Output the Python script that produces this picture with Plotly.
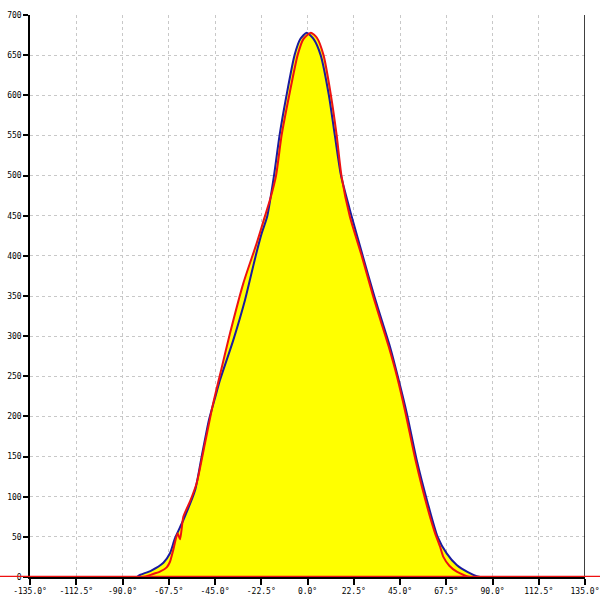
import plotly.graph_objects as go

# Blue series (angle in degrees, value)
blue_deg = [-83, -81.5, -76, -70.1, -66.9, -64.5, -60.4, -54.7, -51.5, -48, -45, -42.6,
            -36.1, -30.4, -25.3, -22.3, -19.6, -16.3, -13.6, -10.2, -6.3, -3.5, -0.4,
            3, 6.4, 10.4, 13.3, 16.3, 21.5, 27.0, 32.6, 36.1, 40.1, 44.0, 48.3, 53.1,
            58.5, 63.3, 67.7, 72.6, 78, 82.3, 84]
blue_val = [0, 2.5, 8, 17.8, 29.5, 48, 71, 108, 150, 195, 223, 245,
            295, 345, 399, 428, 449, 500, 550, 600, 650, 670, 678,
            670, 650, 600, 550, 500, 449, 399, 349, 320, 287, 249, 204, 146,
            92, 50, 29.5, 15, 6, 1, 0]

# Red series
red_deg = [-150, -80, -76, -71.8, -68.5, -66.9, -65.3, -63.2, -62, -60.4, -57, -53.9,
           -50, -46, -42, -37.7, -31.2, -24.7, -21, -18, -15.3, -12.6, -8.9, -4.8, -2,
           1.6, 4.5, 7.8, 11.4, 14.2, 16.5, 20.6, 26.5, 32, 35.5, 39.5, 43.6, 47.7, 52.5,
           58.5, 62, 64.5, 66.1, 69, 72.6, 76, 79, 150]
red_val = [0, 0, 3, 6.6, 12, 19, 33.6, 54.4, 47, 75, 95, 117,
           165, 215, 258, 303.5, 366, 416, 447, 472, 500, 550, 600, 650, 670,
           678, 672, 650, 600, 550, 500, 449, 399, 349, 320, 287, 249, 204, 146,
           85, 55, 37.7, 25, 14, 6.6, 2.5, 0, 0]

x_ticks = [-135, -112.5, -90, -67.5, -45, -22.5, 0, 22.5, 45, 67.5, 90, 112.5, 135]
x_labels = [f"{t:.1f}°" for t in x_ticks]
y_ticks = list(range(0, 701, 50))

YELLOW = "#ffff00"
BLUE = "#1a1aa0"
RED = "#ee1111"

fig = go.Figure()
fig.add_trace(go.Scatter(x=blue_deg, y=blue_val, mode="lines", fill="tozeroy",
                         fillcolor=YELLOW, line=dict(width=0, shape="spline", smoothing=0.6),
                         hoverinfo="skip"))
fig.add_trace(go.Scatter(x=red_deg, y=red_val, mode="lines", fill="tozeroy",
                         fillcolor=YELLOW, line=dict(width=0, shape="spline", smoothing=0.6),
                         hoverinfo="skip"))
fig.add_trace(go.Scatter(x=blue_deg, y=blue_val, mode="lines",
                         line=dict(color=BLUE, width=2, shape="spline", smoothing=0.6)))
fig.add_trace(go.Scatter(x=red_deg, y=red_val, mode="lines",
                         line=dict(color=RED, width=2, shape="spline", smoothing=0.6)))

# right boundary line and extended zero baseline
fig.add_shape(type="line", xref="x", yref="paper", x0=135, x1=135, y0=0, y1=1,
              line=dict(color="black", width=1.5))
fig.add_shape(type="line", xref="paper", yref="y", x0=-0.06, x1=1.03, y0=0, y1=0,
              line=dict(color=RED, width=2.5))

font = dict(family="DejaVu Sans Mono", size=8, color="black")
fig.update_layout(
    width=600, height=600,
    margin=dict(l=30, r=15, t=15, b=23),
    paper_bgcolor="white", plot_bgcolor="white",
    showlegend=False,
    font=font,
    xaxis=dict(range=[-135, 135], tickvals=x_ticks, ticktext=x_labels,
               showgrid=True, gridcolor="#c8c8c8", griddash="3px,3px", gridwidth=1,
               showline=True, linecolor="black", linewidth=1.5,
               ticks="outside", ticklen=6, tickcolor="black", tickwidth=1.5,
               zeroline=False, tickfont=font, fixedrange=True,
               automargin=False, ticklabeloverflow="allow"),
    yaxis=dict(range=[0, 700], tickvals=y_ticks,
               showgrid=True, gridcolor="#c8c8c8", griddash="3px,3px", gridwidth=1,
               showline=True, linecolor="black", linewidth=1.5,
               ticks="outside", ticklen=5, tickcolor="black", tickwidth=1.5,
               zeroline=False, tickfont=font, fixedrange=True,
               automargin=False, ticklabeloverflow="allow"),
)

fig.write_html("out.html", config={"displayModeBar": False},
               post_script="document.body.style.margin='0';document.body.style.overflow='hidden';")
